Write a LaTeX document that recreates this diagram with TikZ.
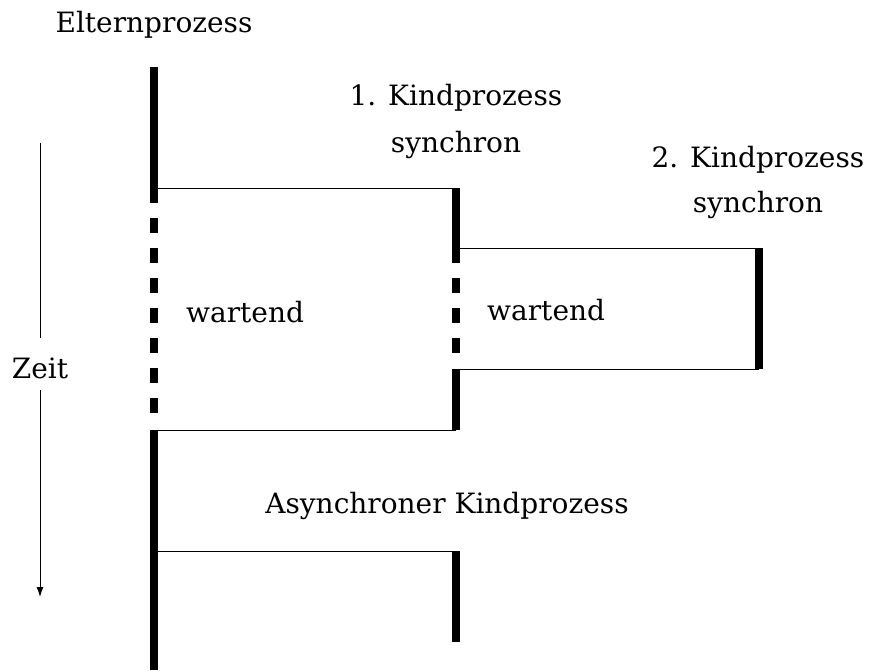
\documentclass[tikz,border=0pt]{standalone}
\usepackage{fontspec}
\setmainfont{DejaVu Serif}
\usetikzlibrary{arrows.meta}

\begin{document}
\begin{tikzpicture}[%
  x=1pt,y=-1pt,
  label/.style={inner sep=0pt,anchor=base,font=\fontsize{28}{34}\selectfont},
  proc/.style={line width=8pt},
  waiting/.style={line width=8pt,dash pattern=on 15pt off 15pt},
  fork/.style={line width=1pt},
  timeline/.style={line width=1pt}]
    \useasboundingbox (0,0) rectangle (869,670);
    % Labels
    \node[label] (eltern) at (154,32) {Elternprozess};
    \node[label] (kind1) at (456,105) {1. Kindprozess};
    \node[label] (sync1) at (456,152) {synchron};
    \node[label] (kind2) at (758,167) {2. Kindprozess};
    \node[label] (sync2) at (758,212) {synchron};
    \node[label,anchor=base west] (wait1) at (186,322) {wartend};
    \node[label,anchor=base west] (wait2) at (487,320) {wartend};
    \node[label] (async) at (447,513) {Asynchroner Kindprozess};
    \node[label] (zeit) at (40,378) {Zeit};
    % Parent process
    \coordinate (p0) at (154,67);
    \coordinate (p1) at (154,188);
    \coordinate (p2) at (154,203);
    \coordinate (p3) at (154,218);
    \coordinate (p4) at (154,413);
    \coordinate (p5) at (154,430);
    \coordinate (p6) at (154,551);
    \coordinate (p7) at (154,670);
    \draw[proc] (p0) -- (p2);
    \draw[waiting] (p3) -- (p4);
    \draw[proc] (p5) -- (p7);
    % 1. child
    \coordinate (a0) at (456,188);
    \coordinate (a1) at (456,248);
    \coordinate (a2) at (456,263);
    \coordinate (a3) at (456,278);
    \coordinate (a4) at (456,353);
    \coordinate (a5) at (456,369);
    \coordinate (a6) at (456,430);
    \draw[proc] (a0) -- (a2);
    \draw[waiting] (a3) -- (a4);
    \draw[proc] (a5) -- (a6);
    % 2. child
    \coordinate (b0) at (759,248);
    \coordinate (b1) at (759,369);
    \draw[proc] (b0) -- (b1);
    % asynchronous child
    \coordinate (c0) at (456,551);
    \coordinate (c1) at (456,642);
    \draw[proc] (c0) -- (c1);
    % Forks and joins
    \draw[fork] (p1) -- (a0);
    \draw[fork] (a1) -- (b0);
    \draw[fork] (b1) -- (a5);
    \draw[fork] (a6) -- (p5);
    \draw[fork] (p6) -- (c0);
    % Time
    \coordinate (t0) at (40,143);
    \coordinate (t1) at (40,338);
    \coordinate (t2) at (40,390);
    \coordinate (t3) at (40,597);
    \draw[timeline] (t0) -- (t1);
    \draw[timeline,-{Latex[length=10pt,width=7pt]}] (t2) -- (t3);
\end{tikzpicture}
\end{document}
